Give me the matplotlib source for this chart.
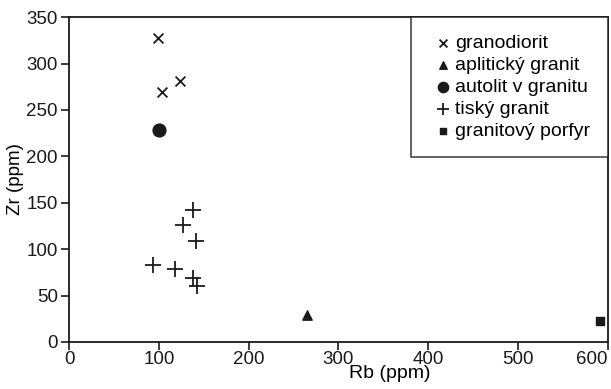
import matplotlib.pyplot as plt

plt.rcParams['font.family'] = ['Liberation Sans', 'DejaVu Sans']

# granodiorit
grd_rb = [99, 103, 123]
grd_zr = [327, 269, 281]
# aplitický granit
apl_rb = [265]
apl_zr = [29]
# autolit v granitu
aut_rb = [100]
aut_zr = [228]
# tiský granit
tis_rb = [138, 127, 141, 93, 118, 138, 143]
tis_zr = [142, 126, 109, 83, 79, 69, 60]
# granitový porfyr
por_rb = [591]
por_zr = [23]

fig = plt.figure(figsize=(6.11, 3.89), dpi=100)
ax = fig.add_axes([0.113, 0.121, 0.882, 0.835])

ax.scatter(grd_rb, grd_zr, marker='x', s=50, c='#1a1a1a', linewidths=1.3, label='granodiorit')
ax.scatter(apl_rb, apl_zr, marker='^', s=45, c='#1a1a1a', label='aplitický granit')
ax.scatter(aut_rb, aut_zr, marker='o', s=85, c='#1a1a1a', label='autolit v granitu')
ax.scatter(tis_rb, tis_zr, marker='+', s=120, c='#1a1a1a', linewidths=1.3, label='tiský granit')
ax.scatter(por_rb, por_zr, marker='s', s=35, c='#1a1a1a', label='granitový porfyr')

ax.set_xlim(0, 600)
ax.set_ylim(0, 350)
ax.set_xticks(range(0, 601, 100))
ax.set_yticks(range(0, 351, 50))
ax.tick_params(labelsize=13.5, length=6, width=1.2, direction='out', colors='#1a1a1a', pad=2)
ax.tick_params(axis='x', pad=0.5)
ax.get_xticklabels()[-1].set_horizontalalignment('right')
for sp in ax.spines.values():
    sp.set_linewidth(1.3)
    sp.set_color('#1a1a1a')

ax.set_xlabel('Rb (ppm)', fontsize=14)
ax.xaxis.set_label_coords(0.596, -0.072)
ax.set_ylabel('Zr (ppm)', fontsize=13.5, labelpad=2)

leg = ax.legend(loc='upper right', bbox_to_anchor=(1, 1), borderaxespad=0,
                fancybox=False, edgecolor='#1a1a1a', fontsize=14,
                handlelength=1.5, handletextpad=-0.1, labelspacing=0.22,
                borderpad=0.9, markerscale=0.8, scatterpoints=1)
leg.get_frame().set_linewidth(1.2)

fig.savefig('out.png', dpi=100)
